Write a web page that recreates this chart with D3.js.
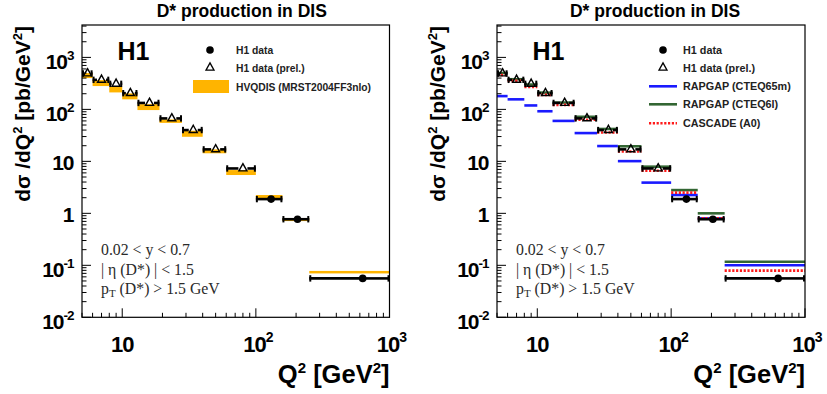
<!DOCTYPE html>
<html><head><meta charset="utf-8">
<script src="https://cdn.jsdelivr.net/npm/d3@7"></script>
<style>body{margin:0;background:#fff}svg{display:block}</style>
</head><body>
<svg id="c" width="827" height="394"></svg>
<script>
// ---- data ----
const binLo = [5, 6, 8, 10, 13, 19, 28, 40, 60, 100, 158, 251];
const binHi = [6, 8, 10, 13, 19, 28, 40, 60, 100, 158, 251, 1000];
const q2Center = [5.5, 7, 9, 11.5, 16, 23.5, 34, 50, 80, 130, 205, 630];
const sigma = [490, 370, 310, 205, 133, 67, 40, 17, 7.3, 1.88, 0.77, 0.056];
const isPrelim = [1, 1, 1, 1, 1, 1, 1, 1, 1, 0, 0, 0];
const hvqdisLo = [400, 281, 212, 156, 97, 55, 29.7, 14.3, 5.46, 1.94, 0.71, 0.071];
const hvqdisHi = [500, 366, 272, 203, 126, 64, 38.8, 17, 6.8, 2.25, 0.80, 0.078];
const rapgap65m = [180, 156, 119, 92, 60, 35, 19.7, 10.1, 3.9, 2.25, 0.80, 0.100];
const rapgap6l = [500, 380, 300, 210, 135, 72, 42, 19.5, 7.9, 2.8, 1.0, 0.117];
const cascade = [460, 355, 270, 190, 122, 63, 36, 15.5, 6.6, 2.5, 0.80, 0.079];
const xTicks = [10, 100, 1000];
const yTicks = [0.01, 0.1, 1, 10, 100, 1000];
const xTickLabels = [["10", ""], ["10", "2"], ["10", "3"]];
const yTickLabels = [["10", "-2"], ["10", "-1"], ["1", ""], ["10", ""], ["10", "2"], ["10", "3"]];
const title = "D* production in DIS";

const svg = d3.select("#c");
const ORANGE = "#ffb400", BLUE = "#1a1aff", GREEN = "#336633", RED = "#ff1a1a";
const FONT = "Liberation Sans, Arial, Helvetica, sans-serif";

function panel(x0, x1, right) {
  const top = 25, bot = 317.3;
  const x = d3.scaleLog().domain([5, 1000]).range([x0, x1]);
  const y = d3.scaleLog().domain([0.01, 4200]).range([bot, top]);
  const g = svg.append("g");

  g.append("text").attr("x", (x0 + x1) / 2 + (right ? 4 : 6)).attr("y", 17)
    .attr("text-anchor", "middle").attr("font-family", FONT).attr("font-weight", "bold")
    .attr("font-size", 17.5).text(title);

  if (!right) {
    binLo.forEach((lo, i) => {
      const yh = y(hvqdisHi[i]), yl = y(hvqdisLo[i]);
      g.append("rect").attr("x", x(lo)).attr("width", x(binHi[i]) - x(lo))
        .attr("y", yh).attr("height", Math.max(2.5, yl - yh)).attr("fill", ORANGE);
    });
  } else {
    const series = [[rapgap6l, GREEN, null], [rapgap65m, BLUE, null], [cascade, RED, "2.2,1.6"]];
    series.forEach(([vals, col, dash]) => {
      binLo.forEach((lo, i) => {
        const l = g.append("line").attr("x1", x(lo)).attr("x2", x(binHi[i]))
          .attr("y1", y(vals[i])).attr("y2", y(vals[i]))
          .attr("stroke", col).attr("stroke-width", 2.6);
        if (dash) l.attr("stroke-dasharray", dash);
      });
    });
  }

  binLo.forEach((lo, i) => {
    const cx = x(q2Center[i]), cy = y(sigma[i]);
    const xa = x(lo), xb = x(binHi[i]);
    const gap = isPrelim[i] ? 4.5 : 0;
    g.append("line").attr("x1", xa).attr("x2", cx - gap).attr("y1", cy).attr("y2", cy)
      .attr("stroke", "#000").attr("stroke-width", 2.6);
    g.append("line").attr("x1", cx + gap).attr("x2", xb).attr("y1", cy).attr("y2", cy)
      .attr("stroke", "#000").attr("stroke-width", 2.6);
    [xa + 1, xb - 1].forEach(px => g.append("line").attr("x1", px).attr("x2", px)
      .attr("y1", cy - 3.2).attr("y2", cy + 3.2).attr("stroke", "#000").attr("stroke-width", 2));
    if (isPrelim[i]) {
      g.append("path").attr("d", `M${cx},${cy - 4.8}L${cx + 4},${cy + 2.4}L${cx - 4},${cy + 2.4}Z`)
        .attr("fill", "none").attr("stroke", "#000").attr("stroke-width", 1.4);
    } else {
      g.append("circle").attr("cx", cx).attr("cy", cy).attr("r", 3.8).attr("fill", "#000");
    }
  });

  g.append("rect").attr("x", x0).attr("y", top).attr("width", x1 - x0).attr("height", bot - top)
    .attr("fill", "none").attr("stroke", "#000").attr("stroke-width", 1.2);

  for (let e = -2; e <= 3; e++) {
    for (let k = 1; k <= 9; k++) {
      const v = k * Math.pow(10, e);
      if (v > 4200) continue;
      const len = k === 1 ? 9 : 4.5;
      g.append("line").attr("x1", x0).attr("x2", x0 + len).attr("y1", y(v)).attr("y2", y(v))
        .attr("stroke", "#000").attr("stroke-width", 1);
    }
  }
  for (let e = 0; e <= 3; e++) {
    for (let k = 1; k <= 9; k++) {
      const v = k * Math.pow(10, e);
      if (v < 5 || v > 1000) continue;
      const len = k === 1 ? 9 : 4.5;
      g.append("line").attr("x1", x(v)).attr("x2", x(v)).attr("y1", bot).attr("y2", bot - len)
        .attr("stroke", "#000").attr("stroke-width", 1);
    }
  }
  yTicks.forEach((v, i) => {
    const [b, s] = yTickLabels[i];
    const t = g.append("text").attr("x", x0 - 8.5).attr("y", y(v) + (s ? 12 : 8.5))
      .attr("text-anchor", "end").attr("font-family", FONT).attr("font-weight", "bold")
      .attr("font-size", 21).attr("letter-spacing", "-1");
    t.append("tspan").text(b);
    if (s) t.append("tspan").attr("dy", -9).attr("font-size", 13.5).text(s);
  });
  xTicks.forEach((v, i) => {
    const [b, s] = xTickLabels[i];
    const t = g.append("text").attr("x", x(v) + (s ? 2 : 0)).attr("y", 351.5)
      .attr("text-anchor", "middle").attr("font-family", FONT).attr("font-weight", "bold")
      .attr("font-size", 22).attr("letter-spacing", "-1");
    t.append("tspan").text(b);
    if (s) t.append("tspan").attr("dy", -10).attr("font-size", 14).text(s);
  });

  const yl = g.append("text").attr("transform", `translate(${x0 - 52},${top + 1}) rotate(-90)`)
    .attr("text-anchor", "end").attr("font-family", FONT).attr("font-weight", "bold").attr("font-size", 21);
  yl.append("tspan").text("dσ /dQ");
  yl.append("tspan").attr("dy", -8).attr("font-size", 13).text("2");
  yl.append("tspan").attr("dy", 8).text(" [pb/GeV");
  yl.append("tspan").attr("dy", -8).attr("font-size", 13).text("2");
  yl.append("tspan").attr("dy", 8).text("]");

  const xl = g.append("text").attr("x", x1).attr("y", 383)
    .attr("text-anchor", "end").attr("font-family", FONT).attr("font-weight", "bold").attr("font-size", 25.5);
  xl.append("tspan").text("Q");
  xl.append("tspan").attr("dy", -10).attr("font-size", 15).text("2");
  xl.append("tspan").attr("dy", 10).text(" [GeV");
  xl.append("tspan").attr("dy", -10).attr("font-size", 15).text("2");
  xl.append("tspan").attr("dy", 10).text("]");

  g.append("text").attr("x", x0 + 35.5).attr("y", 60).attr("font-family", FONT)
    .attr("font-weight", "bold").attr("font-size", 25).text("H1");

  const tx = x0 + 19, tf = "Liberation Serif, Times New Roman, serif";
  const c = "#2a2a2a", fs = 15.8;
  g.append("text").attr("x", tx).attr("y", 255).attr("font-family", tf).attr("font-size", fs).attr("fill", c)
    .text("0.02 < y < 0.7");
  g.append("text").attr("x", tx).attr("y", 274.5).attr("font-family", tf).attr("font-size", fs).attr("fill", c)
    .text("| η (D*) | < 1.5");
  const pt = g.append("text").attr("x", tx).attr("y", 293.5).attr("font-family", tf).attr("font-size", fs).attr("fill", c);
  pt.append("tspan").text("p");
  pt.append("tspan").attr("dy", 3.5).attr("font-size", 11).text("T");
  pt.append("tspan").attr("dy", -3.5).text(" (D*) > 1.5 GeV");

  const lf = right ? 10.8 : 10.3;
  const mx = right ? x0 + 166 : x0 + 128, tx2 = right ? x0 + 186 : x0 + 154;
  const rows = right ? [50, 67.7, 86.3, 104.3, 123.3] : [50, 67.7, 86.7];
  g.append("circle").attr("cx", mx).attr("cy", rows[0]).attr("r", 3.8).attr("fill", "#000");
  g.append("path").attr("d", `M${mx},${rows[1] - 4.8}L${mx + 4},${rows[1] + 2.4}L${mx - 4},${rows[1] + 2.4}Z`)
    .attr("fill", "none").attr("stroke", "#000").attr("stroke-width", 1.3);
  const labels = right
    ? ["H1 data", "H1 data (prel.)", "RAPGAP (CTEQ65m)", "RAPGAP (CTEQ6l)", "CASCADE (A0)"]
    : ["H1 data", "H1 data (prel.)", "HVQDIS (MRST2004FF3nlo)"];
  labels.forEach((l, i) => g.append("text").attr("x", tx2).attr("y", rows[i] + 3.8)
    .attr("font-family", FONT).attr("font-weight", "bold").attr("font-size", lf).attr("fill", "#222").text(l));
  if (!right) {
    g.append("rect").attr("x", x0 + 111).attr("y", 80).attr("width", 36).attr("height", 13).attr("fill", ORANGE);
  } else {
    [[BLUE, null], [GREEN, null], [RED, "2.2,1.6"]].forEach(([col, dash], j) => {
      const l = g.append("line").attr("x1", x0 + 152).attr("x2", x0 + 180)
        .attr("y1", rows[j + 2]).attr("y2", rows[j + 2]).attr("stroke", col).attr("stroke-width", 2.6);
      if (dash) l.attr("stroke-dasharray", dash);
    });
  }
}

panel(82, 389.5, false);
panel(497, 805, true);
</script>
</body></html>
